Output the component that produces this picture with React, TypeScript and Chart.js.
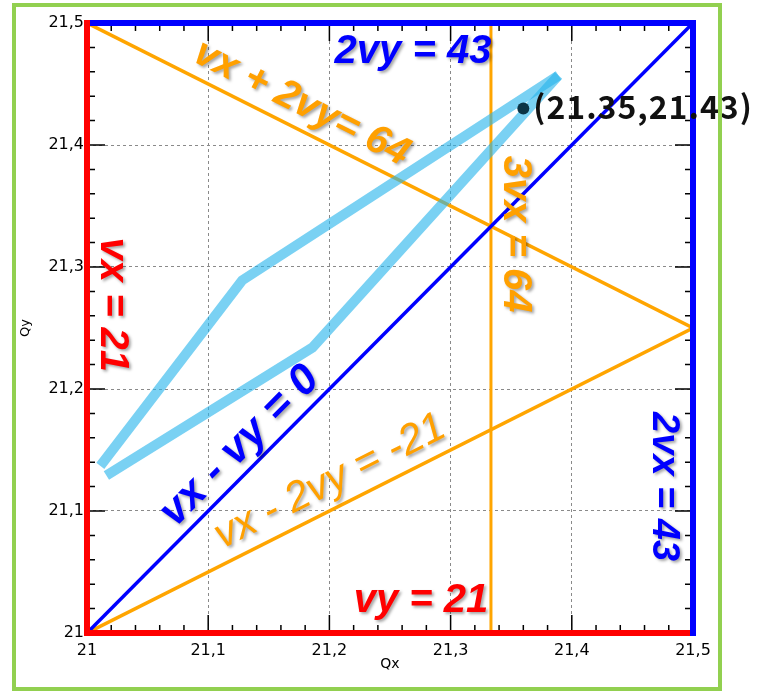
import React, { useEffect, useRef } from "react";
import { Chart, registerables } from "chart.js";

Chart.register(...registerables);

// ---- axes ----
const axisMin = 21;
const axisMax = 21.5;
const majorStep = 0.1;
const minorStep = 0.02;
const xTickLabels = ["21", "21,1", "21,2", "21,3", "21,4", "21,5"];
const yTickLabels = ["21", "21,1", "21,2", "21,3", "21,4", "21,5"];
const xTitle = "Qx";
const yTitle = "Qy";

// ---- light blue trajectory (two polylines) ----
const pathUpperX = [21.389, 21.128, 21.011];
const pathUpperY = [21.457, 21.289, 21.137];
const pathLowerX = [21.016, 21.186, 21.389];
const pathLowerY = [21.129, 21.234, 21.457];

// ---- constraint lines ----
const diagX = [21, 21.5]; // vx - vy = 0
const diagY = [21, 21.5];
const sumX = [21, 21.5]; // vx + 2vy = 64
const sumY = [21.5, 21.25];
const diffX = [21, 21.5]; // vx - 2vy = -21
const diffY = [21, 21.25];
const vertX = [21.3333, 21.3333]; // 3vx = 64
const vertY = [21, 21.5];

// ---- marked point ----
const pointX = [21.36];
const pointY = [21.43];
const pointText = "(21.35,21.43)";

// ---- equation labels ----
const labelTexts = ["2vy = 43", "vx + 2vy= 64", "3vx = 64", "vx = 21", "vx - vy = 0", "vx - 2vy = -21", "vy = 21", "2vx = 43"];
const labelAtX = [21.269, 21.177, 21.353, 21.021, 21.126, 21.2005, 21.2756, 21.476];
const labelAtY = [21.476, 21.434, 21.327, 21.269, 21.153, 21.124, 21.026, 21.12];
const labelAngle = [0, 26.7, 90, 90, -45.2, -26.7, 0, 90];
const labelColor = ["#0000ff", "#ffa000", "#ffa000", "#ff0000", "#0000ff", "#ffa000", "#ff0000", "#0000ff"];
const labelWeight = ["bold", "bold", "bold", "bold", "bold", "normal", "bold", "bold"];
const labelSize = [40, 40, 40, 40, 43, 42, 40, 38];

const zip = (xs: number[], ys: number[]) => xs.map((x, i) => ({ x, y: ys[i] }));

const overlayPlugin = {
  id: "overlay",
  afterDatasetsDraw(chart: any) {
    const { ctx, chartArea, scales } = chart;
    const { left, right, top, bottom } = chartArea;
    const xs = scales.x;
    const ys = scales.y;
    ctx.save();
    // tick marks on all four sides
    ctx.strokeStyle = "#000";
    ctx.lineWidth = 1.5;
    const n = Math.round((axisMax - axisMin) / minorStep);
    for (let i = 0; i <= n; i++) {
      const v = axisMin + i * minorStep;
      const major = i % Math.round(majorStep / minorStep) === 0;
      const len = major ? 18 : 8;
      const px = xs.getPixelForValue(v);
      const py = ys.getPixelForValue(v);
      ctx.beginPath();
      ctx.moveTo(px, bottom); ctx.lineTo(px, bottom - len);
      ctx.moveTo(px, top); ctx.lineTo(px, top + len);
      ctx.moveTo(left, py); ctx.lineTo(left + len, py);
      ctx.moveTo(right, py); ctx.lineTo(right - len, py);
      ctx.stroke();
    }
    // coloured boundary lines
    ctx.lineWidth = 6;
    ctx.lineCap = "butt";
    ctx.strokeStyle = "#0000ff";
    ctx.beginPath();
    ctx.moveTo(left, top); ctx.lineTo(right + 3, top);
    ctx.moveTo(right, top); ctx.lineTo(right, bottom + 3);
    ctx.stroke();
    ctx.strokeStyle = "#ff0000";
    ctx.beginPath();
    ctx.moveTo(left, top - 3); ctx.lineTo(left, bottom + 3);
    ctx.moveTo(left, bottom); ctx.lineTo(right - 3, bottom);
    ctx.stroke();

    // equation labels
    ctx.textAlign = "center";
    ctx.textBaseline = "middle";
    labelTexts.forEach((t, i) => {
      const px = xs.getPixelForValue(labelAtX[i]);
      const py = ys.getPixelForValue(labelAtY[i]);
      ctx.save();
      ctx.translate(px, py);
      ctx.rotate((labelAngle[i] * Math.PI) / 180);
      ctx.font = `italic ${labelWeight[i]} ${labelSize[i]}px "Liberation Sans", Arial, sans-serif`;
      ctx.shadowColor = "rgba(0,0,0,0.35)";
      ctx.shadowBlur = 3;
      ctx.shadowOffsetX = 2;
      ctx.shadowOffsetY = 2;
      ctx.fillStyle = labelColor[i];
      ctx.fillText(t, 0, 0);
      ctx.restore();
    });

    // point label
    const ppx = xs.getPixelForValue(pointX[0]);
    const ppy = ys.getPixelForValue(pointY[0]);
    ctx.font = `bold 32px "Noto Sans CJK JP", "Noto Sans", sans-serif`;
    try { (ctx as any).letterSpacing = "1px"; } catch (e) {}
    ctx.textAlign = "left";
    ctx.textBaseline = "middle";
    ctx.fillStyle = "#111";
    ctx.fillText(pointText, ppx + 10, ppy - 2);
    try { (ctx as any).letterSpacing = "0px"; } catch (e) {}
    ctx.restore();
  },
};

export default function App() {
  const ref = useRef<HTMLCanvasElement | null>(null);
  useEffect(() => {
    if (!ref.current) return;
    const tickFont = { family: '"DejaVu Sans", sans-serif', size: 16 };
    const chart = new Chart(ref.current, {
      type: "scatter",
      data: {
        datasets: [
          {
            data: zip(pointX, pointY),
            pointRadius: 6,
            pointBackgroundColor: "#0b3344",
            pointBorderWidth: 0,
            showLine: false,
          },
          {
            data: zip(pathUpperX, pathUpperY),
            showLine: true,
            borderColor: "rgba(40,180,235,0.62)",
            borderWidth: 10,
            pointRadius: 0,
          },
          {
            data: zip(pathLowerX, pathLowerY),
            showLine: true,
            borderColor: "rgba(40,180,235,0.62)",
            borderWidth: 10,
            pointRadius: 0,
          },
          { data: zip(diagX, diagY), showLine: true, borderColor: "#0000ff", borderWidth: 3.5, pointRadius: 0 },
          { data: zip(sumX, sumY), showLine: true, borderColor: "#ffa500", borderWidth: 3.5, pointRadius: 0 },
          { data: zip(diffX, diffY), showLine: true, borderColor: "#ffa500", borderWidth: 3.5, pointRadius: 0 },
          { data: zip(vertX, vertY), showLine: true, borderColor: "#ffa500", borderWidth: 3, pointRadius: 0 },
        ],
      },
      options: {
        responsive: false,
        animation: false,
        layout: { padding: { left: 0, right: 67, top: 23, bottom: 0 } },
        plugins: { legend: { display: false }, tooltip: { enabled: false } },
        scales: {
          x: {
            type: "linear",
            min: axisMin,
            max: axisMax,
            afterFit: (s: any) => { s.height = 59; },
            ticks: {
              stepSize: majorStep,
              color: "#000",
              font: tickFont,
              padding: 8,
              maxRotation: 0,
              callback: (_v: any, i: number) => xTickLabels[i],
            },
            grid: { color: "#8a8a8a", lineWidth: 1, drawTicks: false },
            border: { display: false, dash: [3, 3] },
            title: { display: true, text: xTitle, color: "#000", font: { family: '"DejaVu Sans", sans-serif', size: 14 }, padding: { top: 0, bottom: 19 } },
          },
          y: {
            type: "linear",
            min: axisMin,
            max: axisMax,
            afterFit: (s: any) => { s.width = 87; },
            ticks: {
              stepSize: majorStep,
              color: "#000",
              font: tickFont,
              padding: 3,
              callback: (_v: any, i: number) => yTickLabels[i],
            },
            grid: { color: "#8a8a8a", lineWidth: 1, drawTicks: false },
            border: { display: false, dash: [3, 3] },
            title: { display: true, text: yTitle, color: "#000", font: { family: '"DejaVu Sans", sans-serif', size: 13 }, padding: { top: 18, bottom: 0 } },
          },
        },
      },
      plugins: [overlayPlugin],
    } as any);
    return () => chart.destroy();
  }, []);
  return (
    <div style={{ position: "absolute", left: 0, top: 0, width: 760, height: 692, background: "#fff" }}>
      <canvas ref={ref} width={760} height={692} style={{ display: "block" }} />
      <div
        style={{
          position: "absolute",
          left: 12,
          top: 3,
          width: 702,
          height: 680,
          border: "4px solid #92d050",
          pointerEvents: "none",
        }}
      />
    </div>
  );
}
